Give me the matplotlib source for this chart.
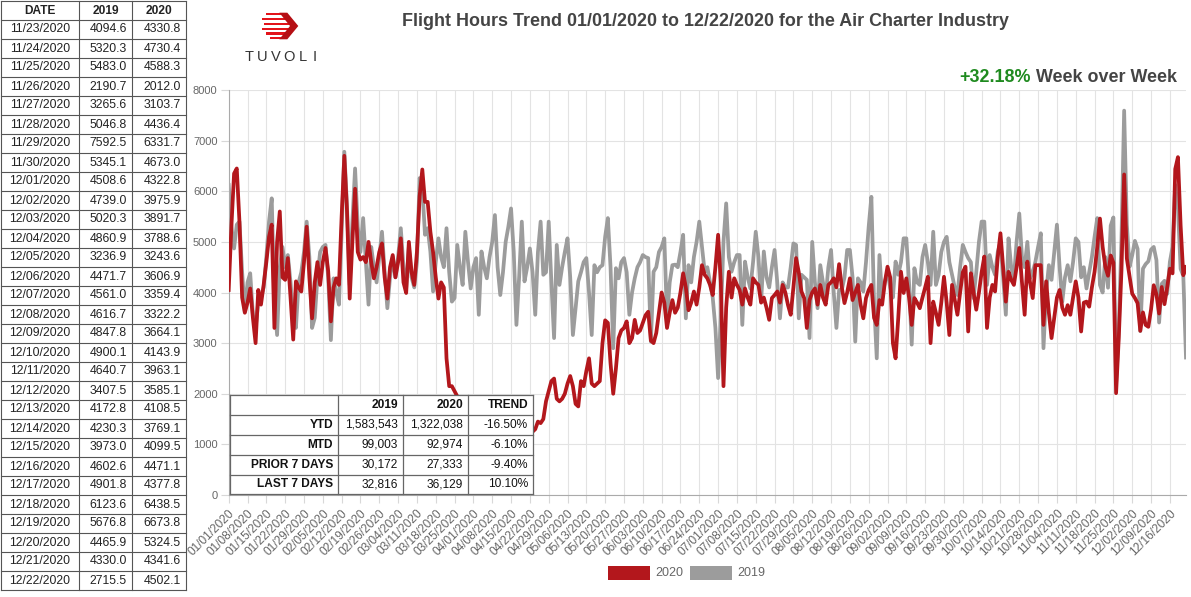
import numpy as np
import pandas as pd
import matplotlib
matplotlib.use("Agg")
import matplotlib.pyplot as plt
from matplotlib.patches import Rectangle, Polygon

plt.rcParams['font.family'] = ['Liberation Sans', 'DejaVu Sans']

# daily flight hours 01/01 -> 11/22, one row per week
early_2020 = [
    4050, 5300, 6350, 6450, 5400, 3900, 3600,
    3800, 4080, 3500, 3000, 4050, 3760, 4150,
    4600, 5100, 5340, 3300, 5000, 5600, 4300,
    4250, 4680, 3900, 3070, 4220, 4100, 4020,
    4600, 5300, 4300, 3490, 4200, 4600, 4150,
    4600, 4880, 4420, 3430, 4100, 4280, 4150,
    5500, 6700, 5600, 3880, 5000, 6050, 4800,
    4650, 4700, 4600, 5000, 4600, 4280, 4500,
    4800, 4970, 4300, 3880, 4500, 4740, 4300,
    4600, 5070, 4200, 3990, 5000, 4400, 4150,
    4800, 5900, 6430, 5790, 5790, 5200, 4800,
    4300, 3880, 4200, 4100, 2700, 2150, 2150,
    2050, 1950, 1800, 1650, 1500, 1400, 1300,
    1100, 1000, 1150, 1250, 1200, 950, 1050,
    1100, 1200, 1250, 1150, 900, 1000, 1150,
    1200, 1300, 1250, 1000, 1100, 1250, 1300,
    1350, 1250, 1300, 1450, 1420, 1500, 1850,
    2050, 2250, 2300, 1900, 1850, 1900, 2000,
    2200, 2350, 2150, 1800, 1750, 2250, 2150,
    2450, 2700, 2200, 2150, 2200, 2250, 3000,
    3450, 3400, 2600, 2000, 2500, 3100, 3250,
    3300, 3430, 3000, 3100, 3460, 3200, 3250,
    3400, 3550, 3620, 3050, 3000, 3200, 3600,
    4000, 3800, 3300, 3600, 3850, 3600, 3700,
    4000, 4380, 4100, 3650, 3800, 4020, 3760,
    4100, 4540, 4350, 4280, 4150, 3950, 4500,
    5140, 4200, 2150, 3700, 4410, 3900, 4280,
    4150, 4050, 3760, 4080, 3900, 3760, 4280,
    4200, 4150, 3800, 3900, 3700, 3460, 3890,
    3950, 4020, 3800, 4150, 4000, 3750, 3560,
    4100, 4680, 4400, 4020, 3890, 3300, 3850,
    4000, 4080, 3760, 4150, 3900, 3760, 4150,
    4200, 4280, 4100, 4560, 4100, 3790, 4000,
    4280, 3850, 4000, 4150, 3760, 3490, 3890,
    4050, 4150, 3500, 3360, 3850, 3760, 4200,
    4510, 4300, 3000, 2700, 3500, 4410, 3990,
    4280, 3900, 3360, 3890, 3800, 3690, 3900,
    4100, 4310, 3000, 3820, 3600, 3360, 3800,
    4310, 3800, 3160, 4150, 3850, 3560, 4000,
    4400, 4510, 3230, 4380, 4000, 3660, 4000,
    4400, 4710, 3300, 3900, 4150, 4020, 4700,
    5170, 4500, 3820, 4410, 4250, 4150, 4500,
    4880, 4200, 3560, 4610, 4200, 3890, 4540,
    4540, 4540, 3360, 4220, 3600, 3100, 3500,
    3900, 4050, 3700, 3560, 3750, 3560, 3900,
    4220, 3900, 3230, 3800, 3820, 3720, 4100,
    4410, 4900, 5460, 4900, 4510,
]

early_2019 = [
    6125, 5300, 4870, 5340, 5400, 4400, 3620,
    4200, 4380, 3560, 3300, 3800, 3900, 4100,
    4700, 5400, 5860, 3800, 3160, 4500, 4900,
    4500, 4740, 4200, 3490, 3300, 4200, 4400,
    4800, 5400, 4700, 3300, 3500, 4300, 4800,
    4900, 4940, 4300, 3060, 4280, 4000, 3760,
    5200, 6780, 5700, 4150, 5400, 6450, 5300,
    4800, 5470, 4600, 3760, 4900, 4500, 4200,
    4700, 5200, 4400, 3690, 4300, 4700, 4300,
    4700, 5270, 4500, 4090, 4900, 4300, 4100,
    4600, 6260, 6060, 5140, 5270, 4810, 4020,
    4600, 5070, 4700, 4500, 5270, 4400, 3820,
    3890, 4940, 4500, 4150, 5200, 4600, 4080,
    4500, 4680, 3560, 4810, 4500, 4280, 4700,
    5000, 5530, 4500, 3950, 4400, 5000, 5300,
    5660, 4800, 3360, 4300, 5400, 4220, 4500,
    4870, 4400, 3560, 4800, 5400, 4350, 4400,
    5400, 4200, 3100, 4940, 4150, 4500, 4800,
    5070, 4300, 3160, 3700, 4220, 4400, 4600,
    4680, 4000, 3160, 4540, 4400, 4500, 4540,
    5100, 5470, 4500, 2900, 4480, 4280, 4600,
    4680, 4400, 3560, 4000, 4280, 4500, 4600,
    4740, 4700, 4680, 3030, 4410, 4500, 4800,
    4900, 5070, 3490, 4200, 4540, 4550, 4500,
    4800, 5140, 3490, 4540, 4200, 4700, 5000,
    5400, 4900, 4410, 4500, 4200, 3900, 3300,
    2310, 3500, 5000, 5760, 4700, 4410, 4600,
    4740, 4740, 3360, 4610, 4300, 4080, 4600,
    5200, 4700, 3820, 4810, 4300, 4100, 4500,
    4840, 4200, 3490, 4200, 4100, 4100, 4500,
    4970, 4940, 3490, 4350, 4300, 4250, 3100,
    5000, 4200, 3690, 4540, 4200, 3900, 4500,
    4840, 4000, 3300, 4050, 4050, 4300, 4840,
    4840, 4300, 3030, 4280, 4200, 4020, 4600,
    5300, 5890, 3800, 2700, 4740, 3890, 4200,
    4410, 4100, 3900, 4610, 4350, 4600, 5070,
    5070, 4200, 2970, 4480, 4200, 4150, 4700,
    4940, 4600, 4150, 5200, 4150, 4350, 4800,
    5000, 5100, 4600, 4350, 4100, 3950, 4500,
    4940, 4800, 4680, 4600, 3890, 4400, 5000,
    5400, 5400, 4150, 4740, 4500, 4350, 4800,
    5000, 4300, 3560, 5070, 4500, 4280, 5000,
    5560, 4700, 4500, 5000, 4280, 4400, 4610,
    4900, 5170, 2900, 4000, 4540, 4250, 4800,
    5340, 4500, 3820, 4300, 4540, 4220, 4600,
    5070, 5000, 4300, 4500, 4080, 4400, 4700,
    5100, 5470, 4150, 4000, 4700,
]

# last 30 days, as listed in the side table
table_dates = ["11/23/2020", "11/24/2020", "11/25/2020", "11/26/2020", "11/27/2020",
               "11/28/2020", "11/29/2020", "11/30/2020", "12/01/2020", "12/02/2020",
               "12/03/2020", "12/04/2020", "12/05/2020", "12/06/2020", "12/07/2020",
               "12/08/2020", "12/09/2020", "12/10/2020", "12/11/2020", "12/12/2020",
               "12/13/2020", "12/14/2020", "12/15/2020", "12/16/2020", "12/17/2020",
               "12/18/2020", "12/19/2020", "12/20/2020", "12/21/2020", "12/22/2020"]
table_2019 = [4094.6, 5320.3, 5483.0, 2190.7, 3265.6, 5046.8, 7592.5, 5345.1, 4508.6, 4739.0,
              5020.3, 4860.9, 3236.9, 4471.7, 4561.0, 4616.7, 4847.8, 4900.1, 4640.7, 3407.5,
              4172.8, 4230.3, 3973.0, 4602.6, 4901.8, 6123.6, 5676.8, 4465.9, 4330.0, 2715.5]
table_2020 = [4330.8, 4730.4, 4588.3, 2012.0, 3103.7, 4436.4, 6331.7, 4673.0, 4322.8, 3975.9,
              3891.7, 3788.6, 3243.6, 3606.9, 3359.4, 3322.2, 3664.1, 4143.9, 3963.1, 3585.1,
              4108.5, 3769.1, 4099.5, 4471.1, 4377.8, 6438.5, 6673.8, 5324.5, 4341.6, 4502.1]

hours_2020 = early_2020 + table_2020
hours_2019 = early_2019 + table_2019

# summary box
summary_rows = ["YTD", "MTD", "PRIOR 7 DAYS", "LAST 7 DAYS"]
summary_2019 = ["1,583,543", "99,003", "30,172", "32,816"]
summary_2020 = ["1,322,038", "92,974", "27,333", "36,129"]
summary_trend = ["-16.50%", "-6.10%", "-9.40%", "10.10%"]

RED = '#b3171c'
GREY = '#9c9c9c'
TXT = '#666666'

fig = plt.figure(figsize=(11.91, 5.97), dpi=100)
ax = fig.add_axes([0.19202, 0.17085, 0.80378, 0.67839])

x19 = np.arange(len(hours_2019))
x20 = np.arange(len(hours_2020))
ax.plot(x19, hours_2019, color=GREY, lw=2.7, zorder=2, solid_joinstyle='round')
ax.plot(x20, hours_2020, color=RED, lw=2.7, zorder=3, solid_joinstyle='round')

dates = pd.date_range("2020-01-01", periods=len(hours_2020))
ax.set_xlim(0, len(hours_2020) - 1)
ax.set_ylim(0, 8000)
ax.set_yticks(range(0, 8001, 1000))
ax.set_xticks(x20[::7])
ax.set_xticklabels(dates[::7].strftime('%m/%d/%Y'), rotation=45, ha='right',
                   rotation_mode='anchor')
ax.tick_params(axis='x', labelsize=8.6, labelcolor=TXT, color='#d8d8d8', length=6, pad=3)
ax.tick_params(axis='y', labelsize=8, labelcolor=TXT, color='#d8d8d8', length=6, pad=2)
ax.grid(True, color='#e3e3e3', lw=0.8)
ax.set_axisbelow(True)
for s in ['top', 'right']:
    ax.spines[s].set_visible(False)
for s in ['left', 'bottom']:
    ax.spines[s].set_color('#aaaaaa')

# overlay in pixel coordinates for tables, logo, titles
ov = fig.add_axes([0, 0, 1, 1], zorder=5)
ov.set_xlim(0, 1191)
ov.set_ylim(597, 0)
ov.axis('off')

# side table
cols = [1, 79, 132, 186]
row_h = 19.0
n_rows = len(table_dates) + 1
for i in range(n_rows + 1):
    ov.plot([cols[0], cols[-1]], [1 + i * row_h] * 2, color='#555555', lw=0.8)
for c in cols:
    ov.plot([c, c], [1, 1 + n_rows * row_h], color='#555555', lw=0.8)
for j, h in enumerate(["DATE", "2019", "2020"]):
    ov.text((cols[j] + cols[j + 1]) / 2, 1 + row_h / 2, h, ha='center', va='center',
            fontsize=8.6, weight='bold', color='#222222')
for i, d in enumerate(table_dates):
    yc = 1 + (i + 1.5) * row_h
    ov.text((cols[0] + cols[1]) / 2, yc, d, ha='center', va='center', fontsize=8.8, color='#222222')
    ov.text(cols[2] - 5, yc, f"{table_2019[i]:.1f}", ha='right', va='center', fontsize=8.8, color='#222222')
    ov.text(cols[3] - 5, yc, f"{table_2020[i]:.1f}", ha='right', va='center', fontsize=8.8, color='#222222')

# summary box over the chart
sx = [230, 338, 403, 468, 533]
sy = [395, 414.5, 434.5, 454.5, 474.5, 494]
ov.add_patch(Rectangle((sx[0], sy[0]), sx[-1] - sx[0], sy[-1] - sy[0], facecolor='white',
                       edgecolor='none', zorder=1))
for yy in sy:
    ov.plot([sx[0], sx[-1]], [yy, yy], color='#666666', lw=0.9, zorder=2)
for xx in sx:
    ov.plot([xx, xx], [sy[0], sy[-1]], color='#666666', lw=0.9, zorder=2)
for j, h in enumerate(["2019", "2020", "TREND"]):
    ov.text(sx[j + 2] - 5, (sy[0] + sy[1]) / 2, h, ha='right', va='center', fontsize=8.6,
            weight='bold', color='#111111', zorder=3)
for i, lab in enumerate(summary_rows):
    yc = (sy[i + 1] + sy[i + 2]) / 2
    ov.text(sx[1] - 5, yc, lab, ha='right', va='center', fontsize=8.6, weight='bold',
            color='#111111', zorder=3)
    for j, v in enumerate([summary_2019[i], summary_2020[i], summary_trend[i]]):
        ov.text(sx[j + 2] - 5, yc, v, ha='right', va='center', fontsize=8.6,
                color='#111111', zorder=3)

# titles
ov.text(705, 22, "Flight Hours Trend 01/01/2020 to 12/22/2020 for the Air Charter Industry",
        ha='center', va='center', fontsize=12.9, weight='bold', color='#444444')
wow = ov.text(1177, 77, "Week over Week", ha='right', va='center', fontsize=12.9,
              weight='bold', color='#444444')
fig.canvas.draw()
bb = wow.get_window_extent()
x_left = ov.transData.inverted().transform((bb.x0, bb.y0))[0]
ov.text(x_left - 5, 77, "+32.18%", ha='right', va='center', fontsize=12.9,
        weight='bold', color='#1f8a1f')

# logo
stripes = [(14, 266, 283), (19, 262, 287), (24, 264, 290), (29, 262, 290),
           (33.5, 266, 287), (38, 270, 283)]
for yy, xa, xb in stripes:
    ov.add_patch(Rectangle((xa, yy - 1.3), xb - xa, 2.6, facecolor='#e3141b', edgecolor='none'))
ov.add_patch(Polygon([(279.3, 12.7), (287.3, 12.7), (298.3, 26), (287.3, 39.3),
                      (279.3, 39.3), (290, 26)], closed=True, facecolor='#b50f14',
                     edgecolor='none'))
for ch, xc in zip("TUVOLI", [249, 262, 276, 289, 303, 315]):
    ov.text(xc, 57, ch, ha='center', va='center', fontsize=10.5, color='#333333')

# legend
ov.add_patch(Rectangle((608, 566), 42, 14, facecolor=RED, edgecolor='none'))
ov.text(655, 573.5, "2020", ha='left', va='center', fontsize=9, color=TXT)
ov.add_patch(Rectangle((690, 566), 42, 14, facecolor=GREY, edgecolor='none'))
ov.text(737, 573.5, "2019", ha='left', va='center', fontsize=9, color=TXT)

fig.savefig("out.png", dpi=100)
